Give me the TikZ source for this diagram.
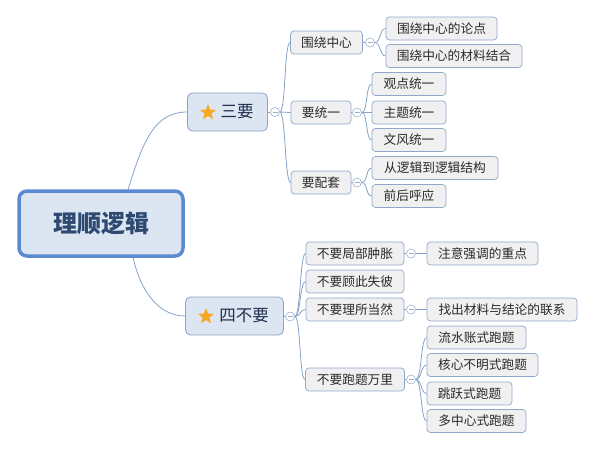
\documentclass[tikz,border=0pt]{standalone}
\usepackage{fontspec}
\setmainfont{Noto Sans CJK SC}
\usetikzlibrary{shapes.geometric}
\definecolor{lnC}{HTML}{86A2C8}
\definecolor{rootB}{HTML}{5B8AD0}
\definecolor{rootF}{HTML}{DCE6F2}
\definecolor{rootT}{HTML}{2E4A70}
\definecolor{l1F}{HTML}{DCE6F2}
\definecolor{l1B}{HTML}{8AA4C8}
\definecolor{l1T}{HTML}{1F2D4A}
\definecolor{l2F}{HTML}{F0F0F0}
\definecolor{l2B}{HTML}{8EA8CB}
\definecolor{txtC}{HTML}{2A2A2A}
\definecolor{starC}{HTML}{F7A823}
\definecolor{circC}{HTML}{9BB0CC}
\begin{document}
\begin{tikzpicture}[x=1pt,y=-1pt,
  rootbox/.style={draw=rootB, line width=3.5pt, fill=rootF, rounded corners=8pt,
    minimum width=164pt, minimum height=65pt, inner sep=0pt,
    font=\fontsize{24}{26}\selectfont\bfseries, text=rootT},
  lonebox/.style={draw=l1B, line width=0.8pt, fill=l1F, rounded corners=5pt,
    minimum height=38pt, inner sep=0pt, font=\fontsize{16.5}{18}\selectfont, text=l1T},
  ltwobox/.style={draw=l2B, line width=0.7pt, fill=l2F, rounded corners=3.5pt,
    minimum height=23pt, inner sep=0pt, font=\fontsize{12.7}{14}\selectfont, text=txtC},
  starnode/.style={star, star points=5, star point ratio=2.4, fill=starC, draw=none,
    minimum size=17pt, inner sep=0pt},
  fold/.style={circle, draw=circC, line width=0.6pt, fill=white, minimum size=9pt, inner sep=0pt,
    path picture={\draw[circC, line width=0.6pt]
      ([xshift=-2.5pt]path picture bounding box.center) -- ([xshift=2.5pt]path picture bounding box.center);}},
  conn/.style={draw=lnC, line width=0.8pt},
  brk/.style={out=0, in=180, out distance=6pt, in distance=6pt}
]
\useasboundingbox (0,0) rectangle (594,450);

% root
\node[rootbox] (root) at (101,223.5) {理顺逻辑};
\coordinate (rtop) at (128,190);
\coordinate (rbot) at (133,257);

% level 1
\node[lonebox, minimum width=80pt] (sy) at (227.5,112) {\hspace*{19pt}三要};
\node[starnode] (st1) at (208,112.5) {};
\node[lonebox, minimum width=98pt] (sb) at (234.5,316) {\hspace*{19pt}四不要};
\node[starnode] (st2) at (206,316.5) {};

\draw[conn] (rtop) .. controls (143,140) and (155,112) .. (sy.west);
\draw[conn] (rbot) .. controls (140,290) and (158,316) .. (sb.west);

% level 2 upper
\node[ltwobox, minimum width=72pt] (wr) at (326.5,42.5) {围绕中心};
\node[ltwobox, minimum width=60pt] (ty) at (321,112.5) {要统一};
\node[ltwobox, minimum width=60pt] (pt) at (321,182.5) {要配套};

% level 3 upper
\node[ltwobox, minimum width=111pt] (a1) at (441.5,28.5) {围绕中心的论点};
\node[ltwobox, minimum width=136pt] (a2) at (454,56) {围绕中心的材料结合};
\node[ltwobox, minimum width=74pt] (b1) at (409,84) {观点统一};
\node[ltwobox, minimum width=74pt] (b2) at (409,112.5) {主题统一};
\node[ltwobox, minimum width=74pt] (b3) at (409,140) {文风统一};
\node[ltwobox, minimum width=126pt] (c1) at (435,168) {从逻辑到逻辑结构};
\node[ltwobox, minimum width=74pt] (c2) at (409,196) {前后呼应};

% level 2 lower
\node[ltwobox, minimum width=98pt] (d1) at (355,253.5) {不要局部肿胀};
\node[ltwobox, minimum width=98pt] (d2) at (355,281.5) {不要顾此失彼};
\node[ltwobox, minimum width=98pt] (d3) at (355,309.5) {不要理所当然};
\node[ltwobox, minimum width=99pt] (d4) at (355,379.5) {不要跑题万里};

% level 3 lower
\node[ltwobox, minimum width=111pt] (e1) at (482.5,253.5) {注意强调的重点};
\node[ltwobox, minimum width=150pt] (f1) at (502,309.5) {找出材料与结论的联系};
\node[ltwobox, minimum width=99pt] (g1) at (476.5,337.5) {流水账式跑题};
\node[ltwobox, minimum width=111pt] (g2) at (482.5,365) {核心不明式跑题};
\node[ltwobox, minimum width=85pt] (g3) at (469.5,393.5) {跳跃式跑题};
\node[ltwobox, minimum width=99pt] (g4) at (476.5,421) {多中心式跑题};

% fold circles
\node[fold] (fsy) at (275,112) {};
\node[fold] (fsb) at (290,316.5) {};
\node[fold] (fwr) at (370,42.5) {};
\node[fold] (fty) at (357,112.5) {};
\node[fold] (fpt) at (357,182.5) {};
\node[fold] (fd1) at (411,253.5) {};
\node[fold] (fd3) at (411,309.5) {};
\node[fold] (fd4) at (411,379.5) {};

% connectors
\draw[conn] (sy.east) -- (fsy.west);
\draw[conn] (fsy.east) to[brk] (wr.west);
\draw[conn] (fsy.east) to[brk] (ty.west);
\draw[conn] (fsy.east) to[brk] (pt.west);

\draw[conn] (sb.east) -- (fsb.west);
\draw[conn] (fsb.east) to[brk] (d1.west);
\draw[conn] (fsb.east) to[brk] (d2.west);
\draw[conn] (fsb.east) to[brk] (d3.west);
\draw[conn] (fsb.east) to[brk] (d4.west);

\draw[conn] (wr.east) -- (fwr.west);
\draw[conn] (fwr.east) to[brk] (a1.west);
\draw[conn] (fwr.east) to[brk] (a2.west);

\draw[conn] (ty.east) -- (fty.west);
\draw[conn] (fty.east) to[brk] (b1.west);
\draw[conn] (fty.east) to[brk] (b2.west);
\draw[conn] (fty.east) to[brk] (b3.west);

\draw[conn] (pt.east) -- (fpt.west);
\draw[conn] (fpt.east) to[brk] (c1.west);
\draw[conn] (fpt.east) to[brk] (c2.west);

\draw[conn] (d1.east) -- (fd1.west);
\draw[conn] (fd1.east) to[brk] (e1.west);

\draw[conn] (d3.east) -- (fd3.west);
\draw[conn] (fd3.east) to[brk] (f1.west);

\draw[conn] (d4.east) -- (fd4.west);
\draw[conn] (fd4.east) to[brk] (g1.west);
\draw[conn] (fd4.east) to[brk] (g2.west);
\draw[conn] (fd4.east) to[brk] (g3.west);
\draw[conn] (fd4.east) to[brk] (g4.west);
\end{tikzpicture}
\end{document}
